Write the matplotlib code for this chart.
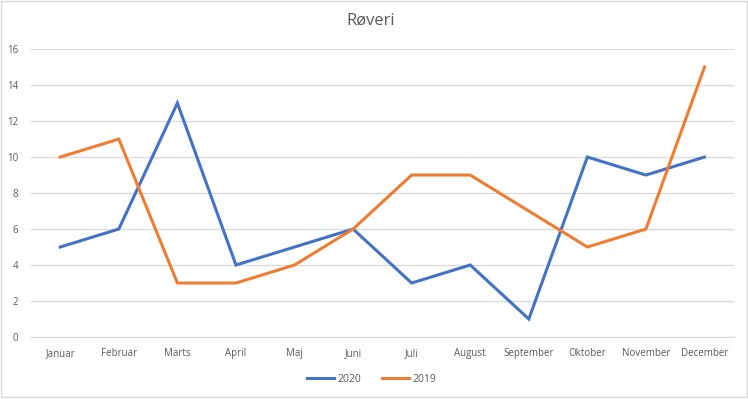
import matplotlib
matplotlib.use("Agg")
import matplotlib.pyplot as plt
from matplotlib.patches import Rectangle

months = ["Januar", "Februar", "Marts", "April", "Maj", "Juni", "Juli",
          "August", "September", "Oktober", "November", "December"]
v2020 = [5, 6, 13, 4, 5, 6, 3, 4, 1, 10, 9, 10]
v2019 = [10, 11, 3, 3, 4, 6, 9, 9, 7, 5, 6, 15]

plt.rcParams['font.family'] = ['Open Sans', 'DejaVu Sans']
txt = '#595959'

fig = plt.figure(figsize=(7.48, 3.99), dpi=100)
ax = fig.add_axes([0.0414, 0.1554, 0.9396, 0.7216])

x = list(range(len(months)))
ax.plot(x, v2020, color='#4472C4', lw=2.2, label='2020', solid_joinstyle='miter')
ax.plot(x, v2019, color='#ED7D31', lw=2.2, label='2019', solid_joinstyle='miter')

ax.set_xlim(-0.5, len(months) - 0.5)
ax.set_ylim(0, 16)
ax.set_yticks(range(0, 17, 2))
ax.set_xticks(x)
ax.set_xticklabels(months)
ax.tick_params(axis='both', length=0, labelsize=7, colors=txt)
ax.tick_params(axis='x', pad=8)
ax.tick_params(axis='y', pad=9)
ax.grid(axis='y', color='#D9D9D9', lw=0.9)
ax.set_axisbelow(True)
for s in ['top', 'right', 'left']:
    ax.spines[s].set_visible(False)
ax.spines['bottom'].set_color('#D9D9D9')
ax.spines['bottom'].set_linewidth(0.9)

fig.text(0.496, 0.948, 'Røveri', ha='center', va='center', fontsize=12, color=txt)

fig.legend(loc='center', bbox_to_anchor=(0.497, 0.05), ncol=2, frameon=False,
           fontsize=7.5, labelcolor=txt, handlelength=2.6, handletextpad=0.3,
           columnspacing=2.0)

fig.patches.append(Rectangle((0.001, 0.004), 0.997, 0.994, transform=fig.transFigure,
                             fill=False, edgecolor='#D9D9D9', lw=1))

fig.savefig('out.png', dpi=100)
